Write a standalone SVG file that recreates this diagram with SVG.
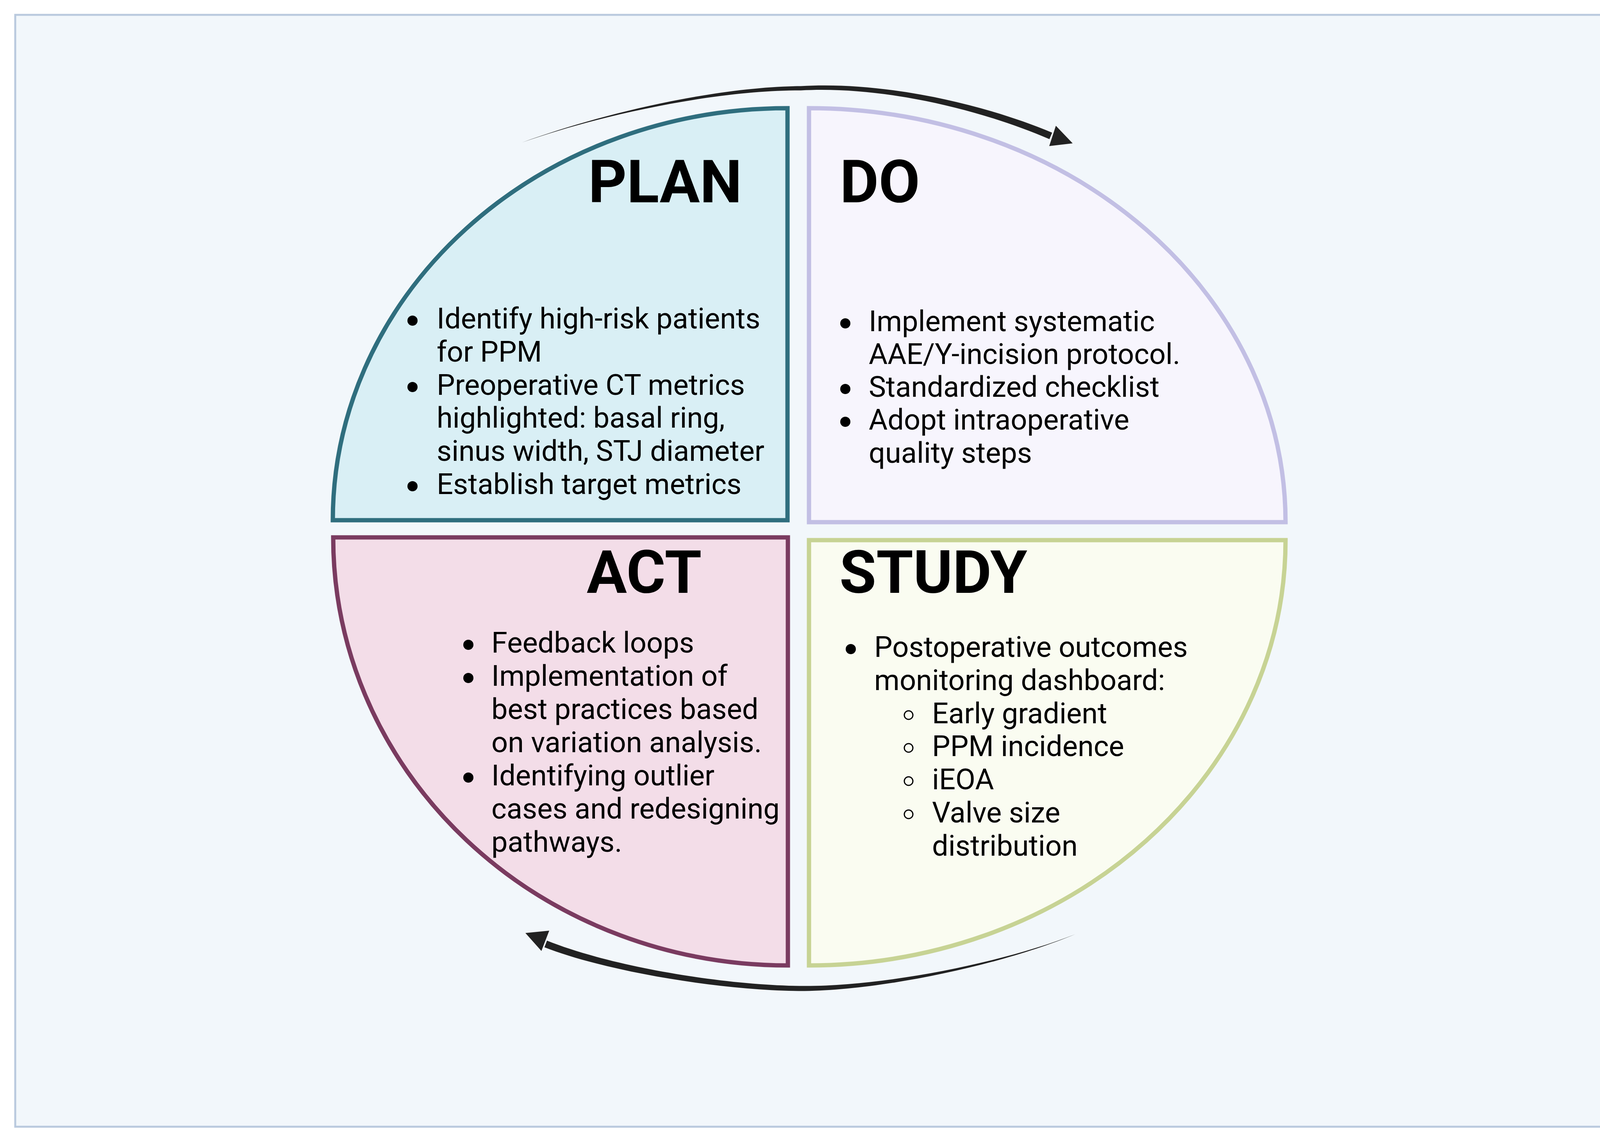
<svg xmlns="http://www.w3.org/2000/svg" width="4141" height="2919" viewBox="0 0 4141 2919">
<style>
.title{font-family:Roboto,"Liberation Sans",sans-serif;font-weight:700;font-size:153px;fill:#000}
.body{font-family:Roboto,"Liberation Sans",sans-serif;font-size:74px;fill:#000}
.dot{fill:#000}
.ring{fill:none;stroke:#000;stroke-width:3}
.q{stroke-width:11;stroke-linejoin:miter}
.arrow{fill:#222}
</style>
<rect x="0" y="0" width="4141" height="2919" fill="#ffffff"/>
<rect id="frame" x="39" y="38" width="4067" height="2847" fill="#f2f7fb" stroke="#b9c9de" stroke-width="5"/>

<g id="connectors">
  <g id="arrow-top">
    <path class="arrow" d="M 1336 365 C 1559.5 283.6 1850 221.5 2050 220.5 C 2250.4 208 2504.8 260.5 2693.5 339.7 L 2686.5 356.3 C 2499.2 275.5 2249.6 220 2050 231.5 C 1850 230.5 1560.5 286.4 1336 365 Z"/>
    <polygon class="arrow" points="2703,322 2746,367 2686,374"/>
  </g>
  <g id="arrow-bottom">
    <path class="arrow" d="M 2753 2392 C 2559.3 2468.1 2260 2525 2060 2524.5 C 1860 2524 1566.9 2475.6 1400.3 2408.6 L 1393.7 2425.4 C 1561.1 2490.4 1860 2538 2060 2537.5 C 2260 2535 2560.7 2471.9 2753 2392 Z"/>
    <polygon class="arrow" points="1406,2383 1345,2389 1386,2435"/>
  </g>
</g>

<g id="plan">
  <path class="q" d="M 852 1332 A 1164 1055 0 0 1 2016 277 L 2016 1332 Z" fill="#d9eff5" stroke="#2f6e7e"/>
  <text class="title" x="1506" y="518">PLAN</text>
  <circle class="dot" cx="1056" cy="821" r="13"/>
  <circle class="dot" cx="1056" cy="991" r="13"/>
  <circle class="dot" cx="1056" cy="1245" r="13"/>
  <text class="body" x="1118" y="841">Identify high-risk patients</text>
  <text class="body" x="1118" y="926">for PPM</text>
  <text class="body" x="1118" y="1011">Preoperative CT metrics</text>
  <text class="body" x="1118" y="1095">highlighted: basal ring,</text>
  <text class="body" x="1118" y="1180">sinus width, STJ diameter</text>
  <text class="body" x="1118" y="1265">Establish target metrics</text>
</g>

<g id="do">
  <path class="q" d="M 2071 277 A 1220 1060 0 0 1 3291 1337 L 2071 1337 Z" fill="#f7f5fd" stroke="#c2bfe4"/>
  <text class="title" x="2150" y="518">DO</text>
  <circle class="dot" cx="2164" cy="828" r="13"/>
  <circle class="dot" cx="2164" cy="996" r="13"/>
  <circle class="dot" cx="2164" cy="1080" r="13"/>
  <text class="body" x="2224" y="848">Implement systematic</text>
  <text class="body" x="2224" y="932">AAE/Y-incision protocol.</text>
  <text class="body" x="2224" y="1016">Standardized checklist</text>
  <text class="body" x="2224" y="1100">Adopt intraoperative</text>
  <text class="body" x="2224" y="1185">quality steps</text>
</g>

<g id="act">
  <path class="q" d="M 853 1376 L 2017 1376 L 2017 2472 A 1164 1096 0 0 1 853 1376 Z" fill="#f3dde8" stroke="#7a3b60"/>
  <text class="title" x="1502" y="1518">ACT</text>
  <circle class="dot" cx="1199" cy="1651" r="13"/>
  <circle class="dot" cx="1199" cy="1736" r="13"/>
  <circle class="dot" cx="1199" cy="1991" r="13"/>
  <text class="body" x="1258" y="1671">Feedback loops</text>
  <text class="body" x="1258" y="1756">Implementation of</text>
  <text class="body" x="1258" y="1841">best practices based</text>
  <text class="body" x="1258" y="1926">on variation analysis.</text>
  <text class="body" x="1258" y="2011">Identifying outlier</text>
  <text class="body" x="1258" y="2096">cases and redesigning</text>
  <text class="body" x="1258" y="2181">pathways.</text>
</g>

<g id="study">
  <path class="q" d="M 2071 1383 L 3291 1383 A 1220 1089 0 0 1 2071 2472 Z" fill="#fafcf1" stroke="#c7d394"/>
  <text class="title" x="2149" y="1518">STUDY</text>
  <circle class="dot" cx="2178" cy="1662" r="13"/>
  <circle class="ring" cx="2326" cy="1831" r="11"/>
  <circle class="ring" cx="2326" cy="1915" r="11"/>
  <circle class="ring" cx="2326" cy="2000" r="11"/>
  <circle class="ring" cx="2326" cy="2085" r="11"/>
  <text class="body" x="2238" y="1682">Postoperative outcomes</text>
  <text class="body" x="2238" y="1767">monitoring dashboard:</text>
  <text class="body" x="2386" y="1852">Early gradient</text>
  <text class="body" x="2386" y="1936">PPM incidence</text>
  <text class="body" x="2386" y="2021">iEOA</text>
  <text class="body" x="2386" y="2106">Valve size</text>
  <text class="body" x="2386" y="2191">distribution</text>
</g>
</svg>
